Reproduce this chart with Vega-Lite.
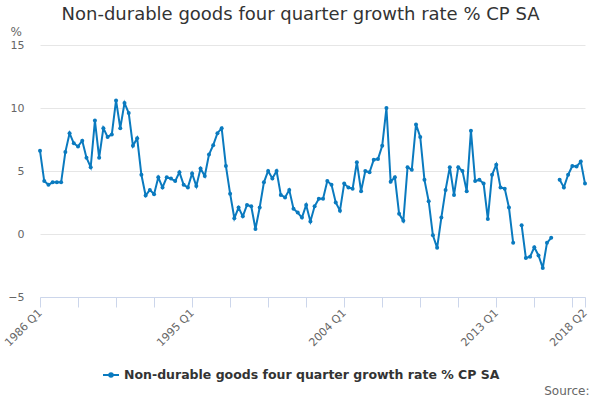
{
  "$schema": "https://vega.github.io/schema/vega-lite/v6.json",
  "width": 545,
  "height": 252,
  "autosize": "none",
  "padding": {"left": 40, "top": 45, "right": 15, "bottom": 103},
  "title": {
    "text": "Non-durable goods four quarter growth rate % CP SA",
    "fontSize": 18,
    "fontWeight": "normal",
    "color": "#333333",
    "anchor": "middle",
    "dx": -12,
    "offset": 1
  },
  "config": {"view": {"stroke": null}, "font": "DejaVu Sans"},
  "data": {
    "values": [
      {"quarter": "1986 Q1", "value": 6.6},
      {"quarter": "1986 Q2", "value": 4.2},
      {"quarter": "1986 Q3", "value": 3.9},
      {"quarter": "1986 Q4", "value": 4.1},
      {"quarter": "1987 Q1", "value": 4.1},
      {"quarter": "1987 Q2", "value": 4.1},
      {"quarter": "1987 Q3", "value": 6.5},
      {"quarter": "1987 Q4", "value": 8.0},
      {"quarter": "1988 Q1", "value": 7.2},
      {"quarter": "1988 Q2", "value": 6.95},
      {"quarter": "1988 Q3", "value": 7.4},
      {"quarter": "1988 Q4", "value": 6.05},
      {"quarter": "1989 Q1", "value": 5.3},
      {"quarter": "1989 Q2", "value": 9.0},
      {"quarter": "1989 Q3", "value": 6.05},
      {"quarter": "1989 Q4", "value": 8.4},
      {"quarter": "1990 Q1", "value": 7.7},
      {"quarter": "1990 Q2", "value": 7.9},
      {"quarter": "1990 Q3", "value": 10.6},
      {"quarter": "1990 Q4", "value": 8.4},
      {"quarter": "1991 Q1", "value": 10.4},
      {"quarter": "1991 Q2", "value": 9.6},
      {"quarter": "1991 Q3", "value": 7.0},
      {"quarter": "1991 Q4", "value": 7.6},
      {"quarter": "1992 Q1", "value": 4.7},
      {"quarter": "1992 Q2", "value": 3.05},
      {"quarter": "1992 Q3", "value": 3.5},
      {"quarter": "1992 Q4", "value": 3.15},
      {"quarter": "1993 Q1", "value": 4.5},
      {"quarter": "1993 Q2", "value": 3.7},
      {"quarter": "1993 Q3", "value": 4.5},
      {"quarter": "1993 Q4", "value": 4.4},
      {"quarter": "1994 Q1", "value": 4.2},
      {"quarter": "1994 Q2", "value": 4.9},
      {"quarter": "1994 Q3", "value": 3.9},
      {"quarter": "1994 Q4", "value": 3.7},
      {"quarter": "1995 Q1", "value": 4.8},
      {"quarter": "1995 Q2", "value": 3.8},
      {"quarter": "1995 Q3", "value": 5.2},
      {"quarter": "1995 Q4", "value": 4.6},
      {"quarter": "1996 Q1", "value": 6.3},
      {"quarter": "1996 Q2", "value": 7.05},
      {"quarter": "1996 Q3", "value": 8.0},
      {"quarter": "1996 Q4", "value": 8.4},
      {"quarter": "1997 Q1", "value": 5.4},
      {"quarter": "1997 Q2", "value": 3.2},
      {"quarter": "1997 Q3", "value": 1.25},
      {"quarter": "1997 Q4", "value": 2.1},
      {"quarter": "1998 Q1", "value": 1.4},
      {"quarter": "1998 Q2", "value": 2.3},
      {"quarter": "1998 Q3", "value": 2.2},
      {"quarter": "1998 Q4", "value": 0.4},
      {"quarter": "1999 Q1", "value": 2.1},
      {"quarter": "1999 Q2", "value": 4.1},
      {"quarter": "1999 Q3", "value": 5.0},
      {"quarter": "1999 Q4", "value": 4.4},
      {"quarter": "2000 Q1", "value": 5.0},
      {"quarter": "2000 Q2", "value": 3.1},
      {"quarter": "2000 Q3", "value": 2.9},
      {"quarter": "2000 Q4", "value": 3.5},
      {"quarter": "2001 Q1", "value": 2.0},
      {"quarter": "2001 Q2", "value": 1.7},
      {"quarter": "2001 Q3", "value": 1.3},
      {"quarter": "2001 Q4", "value": 2.3},
      {"quarter": "2002 Q1", "value": 1.0},
      {"quarter": "2002 Q2", "value": 2.2},
      {"quarter": "2002 Q3", "value": 2.8},
      {"quarter": "2002 Q4", "value": 2.8},
      {"quarter": "2003 Q1", "value": 4.2},
      {"quarter": "2003 Q2", "value": 3.9},
      {"quarter": "2003 Q3", "value": 2.5},
      {"quarter": "2003 Q4", "value": 1.85},
      {"quarter": "2004 Q1", "value": 4.0},
      {"quarter": "2004 Q2", "value": 3.7},
      {"quarter": "2004 Q3", "value": 3.6},
      {"quarter": "2004 Q4", "value": 5.7},
      {"quarter": "2005 Q1", "value": 3.4},
      {"quarter": "2005 Q2", "value": 5.0},
      {"quarter": "2005 Q3", "value": 4.9},
      {"quarter": "2005 Q4", "value": 5.9},
      {"quarter": "2006 Q1", "value": 5.95},
      {"quarter": "2006 Q2", "value": 7.0},
      {"quarter": "2006 Q3", "value": 10.0},
      {"quarter": "2006 Q4", "value": 4.15},
      {"quarter": "2007 Q1", "value": 4.5},
      {"quarter": "2007 Q2", "value": 1.6},
      {"quarter": "2007 Q3", "value": 1.05},
      {"quarter": "2007 Q4", "value": 5.3},
      {"quarter": "2008 Q1", "value": 5.1},
      {"quarter": "2008 Q2", "value": 8.7},
      {"quarter": "2008 Q3", "value": 7.7},
      {"quarter": "2008 Q4", "value": 4.3},
      {"quarter": "2009 Q1", "value": 2.6},
      {"quarter": "2009 Q2", "value": -0.1},
      {"quarter": "2009 Q3", "value": -1.1},
      {"quarter": "2009 Q4", "value": 1.3},
      {"quarter": "2010 Q1", "value": 3.5},
      {"quarter": "2010 Q2", "value": 5.3},
      {"quarter": "2010 Q3", "value": 3.1},
      {"quarter": "2010 Q4", "value": 5.3},
      {"quarter": "2011 Q1", "value": 5.0},
      {"quarter": "2011 Q2", "value": 3.4},
      {"quarter": "2011 Q3", "value": 8.2},
      {"quarter": "2011 Q4", "value": 4.2},
      {"quarter": "2012 Q1", "value": 4.3},
      {"quarter": "2012 Q2", "value": 4.0},
      {"quarter": "2012 Q3", "value": 1.2},
      {"quarter": "2012 Q4", "value": 4.7},
      {"quarter": "2013 Q1", "value": 5.5},
      {"quarter": "2013 Q2", "value": 3.7},
      {"quarter": "2013 Q3", "value": 3.6},
      {"quarter": "2013 Q4", "value": 2.1},
      {"quarter": "2014 Q1", "value": -0.7},
      {"quarter": "2014 Q2", "value": null},
      {"quarter": "2014 Q3", "value": 0.7},
      {"quarter": "2014 Q4", "value": -1.9},
      {"quarter": "2015 Q1", "value": -1.8},
      {"quarter": "2015 Q2", "value": -1.05},
      {"quarter": "2015 Q3", "value": -1.7},
      {"quarter": "2015 Q4", "value": -2.7},
      {"quarter": "2016 Q1", "value": -0.7},
      {"quarter": "2016 Q2", "value": -0.3},
      {"quarter": "2016 Q3", "value": null},
      {"quarter": "2016 Q4", "value": 4.3},
      {"quarter": "2017 Q1", "value": 3.7},
      {"quarter": "2017 Q2", "value": 4.7},
      {"quarter": "2017 Q3", "value": 5.4},
      {"quarter": "2017 Q4", "value": 5.35},
      {"quarter": "2018 Q1", "value": 5.75},
      {"quarter": "2018 Q2", "value": 4.0}
    ]
  },
  "mark": {
    "type": "line",
    "strokeWidth": 2,
    "point": {"filled": true, "size": 16}
  },
  "encoding": {
    "x": {
      "field": "quarter",
      "type": "ordinal",
      "sort": null,
      "scale": {"type": "point", "padding": 0},
      "axis": {
        "values": ["1986 Q1", "1988 Q2", "1990 Q3", "1992 Q4", "1995 Q1", "1997 Q2", "1999 Q3", "2001 Q4", "2004 Q1", "2006 Q2", "2008 Q3", "2010 Q4", "2013 Q1", "2015 Q2", "2017 Q3", "2018 Q2"],
        "labelExpr": "indexof(['1986 Q1','1995 Q1','2004 Q1','2013 Q1','2018 Q2'], datum.value) >= 0 ? datum.value : ''",
        "labelAngle": -45,
        "labelAlign": "right",
        "labelBaseline": "middle",
        "labelPadding": 4,
        "labelOverlap": false,
        "labelColor": "#666666",
        "labelFontSize": 11,
        "domainColor": "#ccd6eb",
        "tickColor": "#ccd6eb",
        "tickSize": 10,
        "grid": false,
        "title": "Source:",
        "titleFontWeight": "normal",
        "titleFontSize": 12,
        "titleColor": "#666666",
        "titleAlign": "right",
        "titleBaseline": "alphabetic",
        "titleX": 549,
        "titleY": 97
      }
    },
    "y": {
      "field": "value",
      "type": "quantitative",
      "scale": {"domain": [-5, 15]},
      "axis": {
        "values": [-5, 0, 5, 10, 15],
        "domain": false,
        "ticks": false,
        "labelPadding": 16,
        "labelColor": "#666666",
        "labelFontSize": 11,
        "gridColor": "#e6e6e6",
        "title": "%",
        "titleAngle": 0,
        "titleAlign": "left",
        "titleBaseline": "alphabetic",
        "titleFontWeight": "normal",
        "titleFontSize": 12,
        "titleColor": "#666666",
        "titleX": -30,
        "titleY": -10
      }
    },
    "color": {
      "datum": "Non-durable goods four quarter growth rate % CP SA",
      "scale": {"range": ["#0a7abf"]},
      "legend": {
        "title": null,
        "orient": "none",
        "legendX": 62,
        "legendY": 321,
        "symbolType": "M-1,0L1,0M-0.22,0A0.22,0.22,0,1,0,0.22,0A0.22,0.22,0,1,0,-0.22,0Z",
        "symbolFillColor": "#0a7abf",
        "symbolStrokeWidth": 2,
        "symbolSize": 256,
        "labelLimit": 500,
        "labelFontSize": 12.5,
        "labelFontWeight": "bold",
        "labelColor": "#333333"
      }
    }
  }
}
